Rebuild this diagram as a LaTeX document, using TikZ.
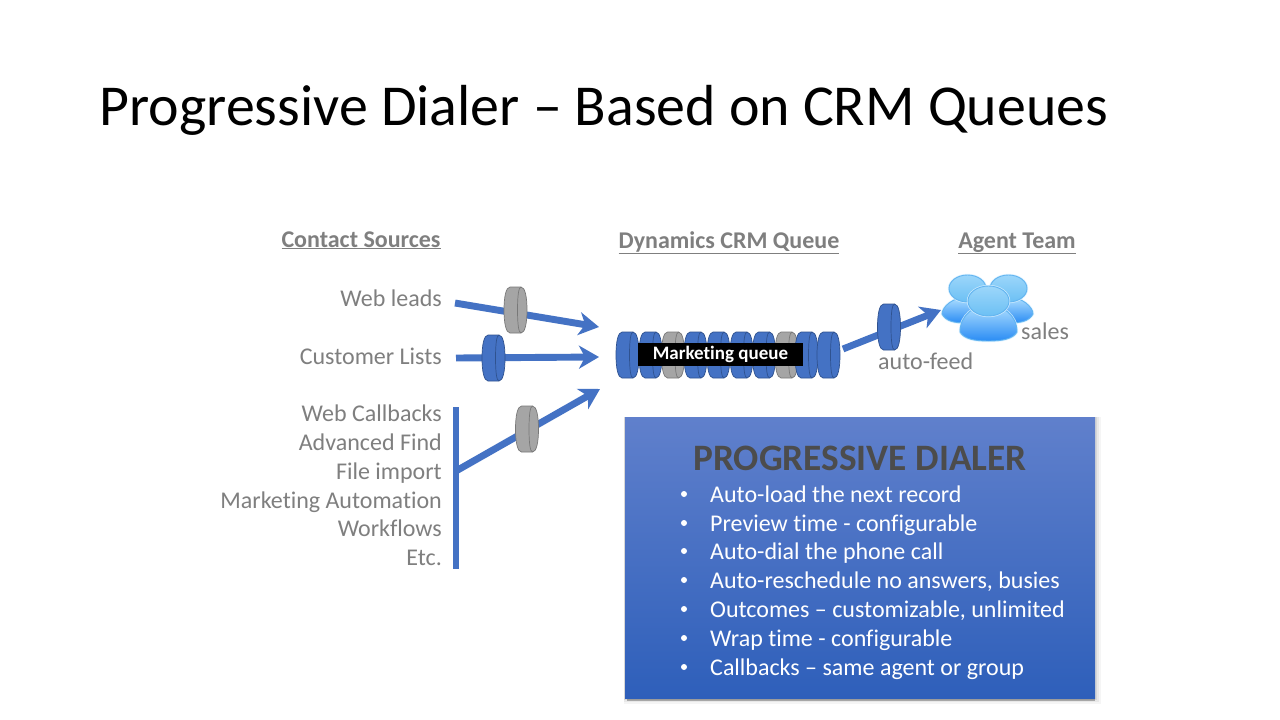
\documentclass[tikz,border=0pt]{standalone}
\usepackage{fontspec}
\setmainfont[Ligatures=NoCommon]{Carlito}
\usetikzlibrary{arrows.meta}
\definecolor{flow}{HTML}{4472C4}
\definecolor{flowedge}{HTML}{2F528F}
\definecolor{stone}{HTML}{A5A5A5}
\definecolor{stoneedge}{HTML}{787878}
\definecolor{label}{HTML}{7F7F7F}
\definecolor{paneltop}{HTML}{6080CC}
\definecolor{panelbot}{HTML}{2E5FBA}
\definecolor{pedge}{HTML}{62B4F0}
\definecolor{pglow}{HTML}{D8F0FF}
\definecolor{bodytop}{HTML}{B0E0FF}
\definecolor{bodymid}{HTML}{6CC2FA}
\definecolor{bodybot}{HTML}{2A8CF4}
\definecolor{headtop}{HTML}{9CD6FA}
\definecolor{headmid}{HTML}{C4EAFF}
\definecolor{headbot}{HTML}{6CC0F4}
\tikzset{
  x=1pt,y=-1pt,
  flowline/.style={draw=flow,line width=6.9pt},
  flowarrow/.style={flowline,-{Stealth[length=20pt,width=23pt,inset=6pt]}},
  srclabel/.style={anchor=base east,text=label,font=\fontsize{24}{28}\selectfont,inner sep=0pt},
  plainlabel/.style={anchor=base west,text=label,font=\fontsize{24}{28}\selectfont,inner sep=0pt},
  headlabel/.style={anchor=base,text=label,font=\fontsize{24}{28}\selectfont\bfseries,inner sep=0pt},
  bullettext/.style={anchor=base west,text=white,font=\fontsize{24}{28}\selectfont,inner sep=0pt},
  bulletdot/.style={circle,fill=white,inner sep=0pt,minimum size=6pt},
}
\newcommand{\disc}[4]{%
  \path[fill=#1,draw=#2,line width=.7pt]
    (#3+6,#4) -- (#3+17,#4)
    .. controls (#3+21,#4) and (#3+23,#4+10) .. (#3+23,#4+23)
    .. controls (#3+23,#4+36) and (#3+21,#4+46) .. (#3+17,#4+46)
    -- (#3+6,#4+46)
    .. controls (#3+2,#4+46) and (#3,#4+36) .. (#3,#4+23)
    .. controls (#3,#4+10) and (#3+2,#4) .. (#3+6,#4) -- cycle;
  \path[draw=#2,line width=.7pt]
    (#3+17,#4) .. controls (#3+14.5,#4) and (#3+13.5,#4+10) .. (#3+13.5,#4+23)
    .. controls (#3+13.5,#4+36) and (#3+14.5,#4+46) .. (#3+17,#4+46);
}
\newcommand{\personbody}[4]{%
  \path[draw=pglow,line width=2.4pt,opacity=.8]
    (#1,#4-9) .. controls (#1,#3+10) and ({(#1+#2)/2-14},#3) .. ({(#1+#2)/2},#3)
    .. controls ({(#1+#2)/2+14},#3) and (#2,#3+10) .. (#2,#4-9)
    .. controls (#2-4,#4-2) and ({(#1+#2)/2+14},#4) .. ({(#1+#2)/2},#4)
    .. controls ({(#1+#2)/2-14},#4) and (#1+4,#4-2) .. (#1,#4-9) -- cycle;
  \path[draw=pedge,line width=.9pt,top color=bodytop,middle color=bodymid,bottom color=bodybot]
    (#1,#4-9) .. controls (#1,#3+10) and ({(#1+#2)/2-14},#3) .. ({(#1+#2)/2},#3)
    .. controls ({(#1+#2)/2+14},#3) and (#2,#3+10) .. (#2,#4-9)
    .. controls (#2-4,#4-2) and ({(#1+#2)/2+14},#4) .. ({(#1+#2)/2},#4)
    .. controls ({(#1+#2)/2-14},#4) and (#1+4,#4-2) .. (#1,#4-9) -- cycle;
}
\newcommand{\personhead}[4]{%
  \path[draw=pglow,line width=2.4pt,opacity=.8] (#1,#2) ellipse [x radius=#3,y radius=#4];
  \path[draw=pedge,line width=.9pt,top color=headtop,middle color=headmid,bottom color=headbot]
    (#1,#2) ellipse [x radius=#3,y radius=#4];
}
\begin{document}
\begin{tikzpicture}
\useasboundingbox (0,0) rectangle (1280,720);
\fill[white] (0,0) rectangle (1280,720);

\node[anchor=base west,inner sep=0pt,font=\fontsize{57.9}{64}\selectfont] (title) at (99.5,125) {Progressive Dialer – Based on CRM Queues};

\node[headlabel] (hsrc) at (361,247) {\underline{Contact Sources}};
\node[headlabel] (hcrm) at (729,248) {\underline{Dynamics CRM Queue}};
\node[headlabel] (hteam) at (1017,248) {\underline{Agent Team}};

\node[srclabel] (web) at (442,306) {Web leads};
\node[srclabel] (cust) at (442,364) {Customer Lists};
\node[srclabel] (cb) at (442,421) {Web Callbacks};
\node[srclabel] (adv) at (442,450) {Advanced Find};
\node[srclabel] (file) at (442,479) {File import};
\node[srclabel] (auto) at (442,508) {Marketing Automation};
\node[srclabel] (wf) at (442,536) {Workflows};
\node[srclabel] (etc) at (442,565) {Etc.};

\coordinate (webS) at (455,303);
\coordinate (webE) at (599,327);
\coordinate (custS) at (456,358);
\coordinate (custE) at (599,357);
\coordinate (barT) at (456,407);
\coordinate (barB) at (456,569);
\coordinate (barJ) at (456,471);
\coordinate (barE) at (600,389);
\coordinate (feedS) at (843,349);
\coordinate (feedE) at (941,310);

\draw[flowarrow] (webS) -- (webE);
\draw[flowarrow] (custS) -- (custE);
\draw[flowline] (barT) -- (barB);
\draw[flowarrow] (barJ) -- (barE);
\draw[flowarrow] (feedS) -- (feedE);

\disc{stone}{stoneedge}{504}{287}
\disc{flow}{flowedge}{482}{335}
\disc{stone}{stoneedge}{515.5}{406}
\disc{flow}{flowedge}{877.5}{304}

\disc{flow}{flowedge}{730}{332}
\disc{flow}{flowedge}{707}{332}
\disc{flow}{flowedge}{684}{332}
\disc{stone}{stoneedge}{661.5}{332}
\disc{flow}{flowedge}{639}{332}
\disc{flow}{flowedge}{616}{332}
\disc{flow}{flowedge}{752.5}{332}
\disc{stone}{stoneedge}{775}{332}
\disc{flow}{flowedge}{795}{332}
\disc{flow}{flowedge}{817}{332}

\node[fill=black,text=white,font=\fontsize{19}{22}\selectfont\bfseries,minimum width=165pt,minimum height=23pt,inner sep=0pt] (mq) at (720.5,354.5) {Marketing queue};

\personbody{942}{992}{297}{323}
\personbody{983}{1033}{297}{323}
\personhead{967.5}{288.5}{18.5}{13.5}
\personhead{1008.5}{288.5}{18.5}{13.5}
\personbody{960}{1017}{305}{341}
\personhead{988.5}{301}{20.5}{15}

\node[plainlabel] (sales) at (1021,339) {sales};
\node[plainlabel] (feed) at (878,369) {auto-feed};

\foreach \d/\o in {7/.04,5/.05,3/.07}
  \fill[black,opacity=\o] (625-1,417) rectangle (1095+\d-1,698+\d-1);
\fill[black,opacity=.28] (627,695) rectangle (1095,700.5);
\shade[top color=paneltop,bottom color=panelbot,draw=none] (625,417) rectangle (1095,698);
\node[anchor=base,inner sep=0pt,text=black!70,font=\fontsize{37.3}{40}\selectfont\bfseries] (ptitle) at (860,470) {PROGRESSIVE DIALER};

\foreach \yy/\tt in {502/Auto-load the next record,531/Preview time - configurable,559/Auto-dial the phone call,588/{Auto-reschedule no answers, busies},617/{Outcomes – customizable, unlimited},646/Wrap time - configurable,675/Callbacks – same agent or group}{
  \node[bulletdot] at (684,\yy-8) {};
  \node[bullettext] at (710,\yy) {\tt};
}
\end{tikzpicture}
\end{document}
